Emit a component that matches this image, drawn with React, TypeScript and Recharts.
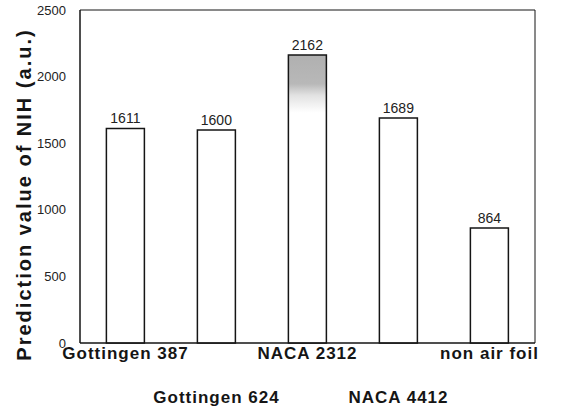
import { BarChart, Bar, XAxis, YAxis, Cell, LabelList, ReferenceArea } from 'recharts';

const categories = ['Gottingen 387', 'Gottingen 624', 'NACA 2312', 'NACA 4412', 'non air foil'];
const values = [1611, 1600, 2162, 1689, 864];
const valueLabels = ['1611', '1600', '2162', '1689', '864'];
const yTicks = [0, 500, 1000, 1500, 2000, 2500];

const data = categories.map((name, i) => ({ name, value: values[i], label: valueLabels[i] }));

const INK = '#151515';

function StaggerTick({ x, y, payload }: any) {
  const row = payload.index % 2;
  return (
    <text
      x={x}
      y={y + (row === 0 ? 16 : 60)}
      textAnchor="middle"
      fontSize={17}
      fontWeight="bold"
      letterSpacing={1}
      fill={INK}
    >
      {payload.value}
    </text>
  );
}

function YTitle({ viewBox }: any) {
  const cx = 24;
  const cy = viewBox.y + viewBox.height / 2 + 18;
  return (
    <text
      x={cx}
      y={cy}
      transform={`rotate(-90, ${cx}, ${cy})`}
      textAnchor="middle"
      dominantBaseline="central"
      fontSize={20}
      fontWeight="bold"
      letterSpacing={2}
      fill={INK}
    >
      Prediction value of NIH (a.u.)
    </text>
  );
}

export default function App() {
  return (
    <div style={{ position: 'absolute', left: 0, top: 0, background: '#fff', fontFamily: 'Liberation Sans, Arial, sans-serif' }}>
      <BarChart
        width={565}
        height={406}
        data={data}
        margin={{ top: 10, right: 30, left: 0, bottom: 0 }}
        barCategoryGap="29%"
      >
        <defs>
          <linearGradient id="scanShade" x1="0" y1="0" x2="0" y2="1">
            <stop offset="0%" stopColor="#b0b0b0" />
            <stop offset="10%" stopColor="#b8b8b8" />
            <stop offset="14%" stopColor="#e2e2e2" />
            <stop offset="20%" stopColor="#ffffff" />
            <stop offset="100%" stopColor="#ffffff" />
          </linearGradient>
        </defs>
        <XAxis
          dataKey="name"
          height={63}
          interval={0}
          tickSize={0}
          tickMargin={0}
          axisLine={{ stroke: INK, strokeWidth: 1 }}
          tick={<StaggerTick />}
        />
        <YAxis
          width={80}
          domain={[0, 2500]}
          ticks={yTicks}
          tickSize={0}
          tickMargin={14}
          axisLine={{ stroke: INK, strokeWidth: 1 }}
          tick={{ fontSize: 13, fill: '#222' }}
          label={<YTitle />}
        />
        <ReferenceArea y1={0} y2={2500} fill="none" stroke={INK} strokeWidth={1} ifOverflow="visible" />
        <Bar dataKey="value" fill="#fff" stroke={INK} strokeWidth={1.5} isAnimationActive={false}>
          {data.map((d, i) => (
            <Cell key={d.name} fill={i === 2 ? 'url(#scanShade)' : '#fff'} />
          ))}
          <LabelList dataKey="label" position="top" offset={5} fontSize={14} fill="#222" />
        </Bar>
      </BarChart>
    </div>
  );
}
